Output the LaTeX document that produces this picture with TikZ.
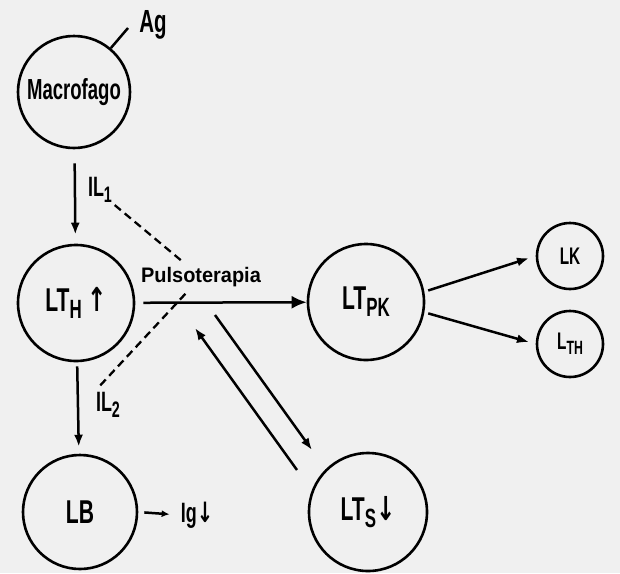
\documentclass[tikz,border=0pt]{standalone}
\usepackage{graphicx}
\usepackage{fontspec}
\setmainfont{Liberation Sans}
\newfontfamily\narrowfont[FakeStretch=0.64]{Liberation Sans Bold}
\newfontfamily\widefont[FakeStretch=0.95]{Liberation Sans Bold}
\newfontfamily\arrowfont[FakeStretch=0.7]{DejaVu Sans Bold}
\usetikzlibrary{arrows.meta,positioning}
\newcommand{\lowsub}[1]{\raisebox{-0.4ex}{\scalebox{0.8}{#1}}}
\newcommand{\upa}{{\arrowfont↑}}
\newcommand{\downa}{{\arrowfont↓}}

\begin{document}
\begin{tikzpicture}[x=1pt,y=-1pt,
	cell/.style={circle,draw,line width=2.6pt,inner sep=0pt,font=\narrowfont\fontsize{33}{35}\selectfont},
	small/.style={cell,minimum size=66pt,font=\narrowfont\fontsize{24}{26}\selectfont},
	lab/.style={inner sep=1pt,font=\narrowfont\fontsize{28}{30}\selectfont},
	arr/.style={-{Latex[length=12pt,width=9pt]},line width=2.5pt}]
	\fill[black!6] (0,0) rectangle (620,573);
	\useasboundingbox (0,0) rectangle (620,573);
	\node[cell,minimum size=112pt,font=\narrowfont\fontsize{29}{31}\selectfont] (mac) at (74,92) {Macrofago};
	\node[cell,minimum size=116pt] (lth) at (76,303) {LT\lowsub{H}\,\upa};
	\node[cell,minimum size=114pt] (lb) at (80,512) {LB};
	\node[cell,minimum size=116pt] (ltpk) at (366,302) {LT\lowsub{PK}};
	\node[cell,minimum size=118pt] (lts) at (368,512) {LT\lowsub{S}\downa};
	\node[small] (lk) at (570,256) {LK};
	\node[small] (lth2) at (570,344) {L\lowsub{TH}};
	\node[lab,font=\narrowfont\fontsize{32}{34}\selectfont] (ag) at (153,25) {Ag};
	\node[lab] (il1) at (100,190) {IL\lowsub{1}};
	\node[lab] (il2) at (108,405) {IL\lowsub{2}};
	\node[inner sep=1pt,font=\widefont\fontsize{21}{23}\selectfont] (pulso) at (201,277) {Pulsoterapia};
	\node[lab] (ig) at (197,515) {Ig\downa};
	\coordinate (agend) at (128,28);
	\coordinate (sa) at (215,315);
	\coordinate (ea) at (312,450);
	\coordinate (eb) at (297,470);
	\coordinate (sb) at (195,328);
	\draw[line width=2.5pt] (mac.50) -- (agend);
	\draw[arr,shorten <=14pt,shorten >=9pt] (mac) -- (lth);
	\draw[arr,shorten <=4pt,shorten >=7pt] (lth) -- (lb);
	\draw[arr,-{Latex[length=15pt,width=13pt]},shorten <=8pt] (lth) -- (ltpk);
	\draw[dashed,line width=2.3pt,dash pattern=on 8pt off 5pt,shorten <=2pt,shorten >=22pt] (il1.south east) -- (pulso.center);
	\draw[dashed,line width=2.3pt,dash pattern=on 8pt off 5pt,shorten <=8pt,shorten >=21pt] (il2.north west) -- (pulso.center);
	\draw[arr] (sa) -- (ea);
	\draw[arr] (eb) -- (sb);
	\draw[arr,shorten <=4pt,shorten >=7pt] (ltpk.10) -- (lk.west);
	\draw[arr,shorten <=4pt,shorten >=7pt] (ltpk.-10) -- (lth2.west);
	\draw[arr,-{Latex[length=8pt,width=7pt]},shorten <=6pt,shorten >=10pt] (lb.east) -- (ig.west);
\end{tikzpicture}
\end{document}
